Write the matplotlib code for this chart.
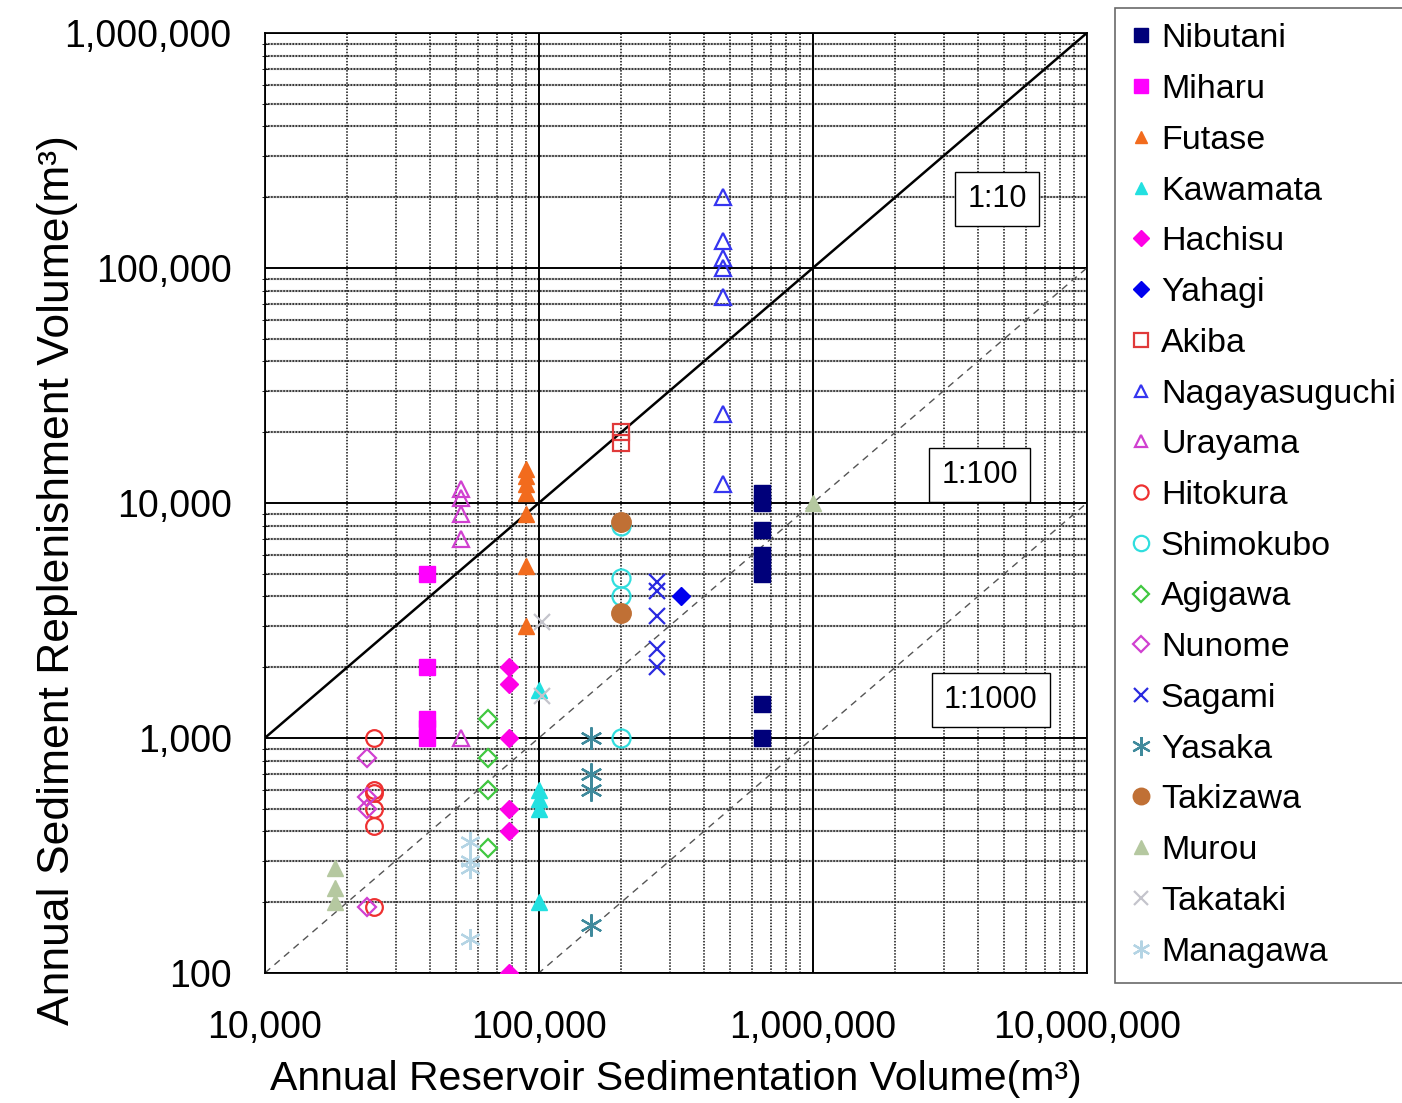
import numpy as np
import matplotlib
matplotlib.use("Agg")
import matplotlib.pyplot as plt
from matplotlib.ticker import FixedLocator, FuncFormatter, LogLocator, NullFormatter

# values (m3/year)
nibutani_x = [650000] * 8
nibutani_y = [11000, 10000, 7700, 6000, 5500, 5000, 1400, 1000]
miharu_x = [39000] * 5
miharu_y = [5000, 2000, 1200, 1100, 1000]
futase_x = [90000] * 7
futase_y = [14000, 13000, 12000, 11000, 9000, 5400, 3000]
kawamata_x = [100000] * 5
kawamata_y = [1600, 600, 550, 500, 200]
hachisu_x = [78000] * 6
hachisu_y = [2000, 1700, 1000, 500, 400, 100]
yahagi_x = [330000]
yahagi_y = [4000]
akiba_x = [200000] * 2
akiba_y = [20000, 18000]
nagayasuguchi_x = [470000] * 7
nagayasuguchi_y = [200000, 130000, 110000, 100000, 75000, 24000, 12000]
urayama_x = [52000] * 5
urayama_y = [11500, 10500, 9000, 7000, 1000]
hitokura_x = [25000] * 6
hitokura_y = [1000, 600, 580, 500, 420, 190]
shimokubo_x = [200000] * 4
shimokubo_y = [8000, 4800, 4000, 1000]
agigawa_x = [65000] * 4
agigawa_y = [1200, 820, 600, 340]
nunome_x = [23500] * 4
nunome_y = [820, 560, 500, 190]
sagami_x = [270000] * 5
sagami_y = [4600, 4200, 3300, 2400, 2000]
yasaka_x = [155000] * 4
yasaka_y = [1000, 700, 600, 160]
takizawa_x = [200000] * 2
takizawa_y = [8300, 3400]
murou_x = [18000, 18000, 18000, 1000000]
murou_y = [280, 230, 200, 10000]
takataki_x = [103000] * 2
takataki_y = [3100, 1500]
managawa_x = [56000] * 4
managawa_y = [360, 300, 280, 140]

ratios = [10, 100, 1000]
ratio_labels = ["1:10", "1:100", "1:1000"]
x_ticks = [1e4, 1e5, 1e6, 1e7]
y_ticks = [1e2, 1e3, 1e4, 1e5, 1e6]

ASTER = (6, 2, 0)

# name, x, y, marker, color, filled, size
series = [
    ("Nibutani", nibutani_x, nibutani_y, "s", "#00007a", True, 12),
    ("Miharu", miharu_x, miharu_y, "s", "#ff00ff", True, 12),
    ("Futase", futase_x, futase_y, "^", "#f26b1d", True, 11),
    ("Kawamata", kawamata_x, kawamata_y, "^", "#22e0e0", True, 11),
    ("Hachisu", hachisu_x, hachisu_y, "D", "#ff00e6", True, 9),
    ("Yahagi", yahagi_x, yahagi_y, "D", "#0000ee", True, 9),
    ("Akiba", akiba_x, akiba_y, "s", "#e03a3a", False, 12),
    ("Nagayasuguchi", nagayasuguchi_x, nagayasuguchi_y, "^", "#3535f0", False, 11),
    ("Urayama", urayama_x, urayama_y, "^", "#d040d0", False, 11),
    ("Hitokura", hitokura_x, hitokura_y, "o", "#ee3030", False, 12),
    ("Shimokubo", shimokubo_x, shimokubo_y, "o", "#30dede", False, 13),
    ("Agigawa", agigawa_x, agigawa_y, "D", "#40c840", False, 9),
    ("Nunome", nunome_x, nunome_y, "D", "#d040d0", False, 9),
    ("Sagami", sagami_x, sagami_y, "x", "#2a2ae0", False, 12),
    ("Yasaka", yasaka_x, yasaka_y, ASTER, "#3f8a9c", False, 16),
    ("Takizawa", takizawa_x, takizawa_y, "o", "#c07035", True, 14),
    ("Murou", murou_x, murou_y, "^", "#b5c8a0", True, 12),
    ("Takataki", takataki_x, takataki_y, "x", "#c4c4cc", False, 12),
    ("Managawa", managawa_x, managawa_y, ASTER, "#b4d4e4", False, 15),
]


def main():
    fig = plt.figure(figsize=(14.02, 11.03), dpi=100)
    ax = fig.add_axes([0.189, 0.118, 0.5863, 0.8522])
    ax.set_xscale("log")
    ax.set_yscale("log")
    ax.set_xlim(1e4, 1e7)
    ax.set_ylim(1e2, 1e6)

    # grid: doubled light/dotted minor lines, black majors
    for v in LogLocator(base=10, subs=np.arange(2, 10)).tick_values(1e2, 1e6):
        if 1e2 < v < 1e6:
            ax.axhline(v, color="#b8b8b8", lw=1.6, zorder=0.5)
    ax.grid(which="minor", color="#111111", ls=(0, (1, 1)), lw=1.1, zorder=0.6)
    ax.grid(which="major", color="black", lw=1.4, zorder=0.7)
    ax.set_axisbelow(True)

    for name, xs, ys, mk, col, filled, ms in series:
        if filled:
            ax.plot(xs, ys, ls="none", marker=mk, ms=ms, color=col,
                    mec=col, label=name, zorder=3)
        else:
            ax.plot(xs, ys, ls="none", marker=mk, ms=ms, mfc="none",
                    mec=col, mew=1.6, label=name, zorder=3)

    line_x = np.array([1e4, 1e7])
    ax.plot(line_x, line_x / ratios[0], color="black", lw=1.8, zorder=2)
    ax.plot(line_x, line_x / ratios[1], color="#555555", lw=1.0, ls=(0, (5, 4)), zorder=2)
    ax.plot(line_x, line_x / ratios[2], color="#555555", lw=1.0, ls=(0, (5, 4)), zorder=2)

    box = dict(boxstyle="square,pad=0.4", fc="white", ec="black", lw=1.0)
    label_pos = [(0.8905, 0.8234), (0.8698, 0.5298), (0.8832, 0.2904)]
    for lab, (px, py) in zip(ratio_labels, label_pos):
        ax.text(px, py, lab, transform=ax.transAxes, ha="center", va="center",
                fontsize=22, family="Liberation Sans", bbox=box, zorder=4)

    ax.xaxis.set_major_locator(FixedLocator(x_ticks))
    ax.yaxis.set_major_locator(FixedLocator(y_ticks))
    fmt = FuncFormatter(lambda v, p: f"{int(round(v)):,}")
    ax.xaxis.set_major_formatter(fmt)
    ax.yaxis.set_major_formatter(fmt)
    ax.xaxis.set_minor_formatter(NullFormatter())
    ax.yaxis.set_minor_formatter(NullFormatter())
    ax.tick_params(which="both", length=0, labelsize=27)
    ax.tick_params(axis="x", which="major", pad=27)
    ax.tick_params(axis="y", which="major", pad=24)
    ax.tick_params(axis="y", which="minor", length=5, direction="inout")
    for lbl in ax.get_xticklabels() + ax.get_yticklabels():
        lbl.set_family("Liberation Sans")
    for sp in ax.spines.values():
        sp.set_color("black")
        sp.set_linewidth(1.3)

    ax.set_xlabel("Annual Reservoir Sedimentation Volume(m³)", fontsize=29.5,
                  family="Liberation Sans", labelpad=10)
    ax.set_ylabel("Annual Sediment Replenishment Volume(m³)", fontsize=32,
                  family="Liberation Sans")
    ax.yaxis.set_label_coords(-0.228, 0.418)

    leg = ax.legend(loc="upper left", bbox_to_anchor=(0.7953, 0.9927),
                    bbox_transform=fig.transFigure, frameon=True, fancybox=False,
                    edgecolor="#444444", prop={"family": "Liberation Sans", "size": 24.5},
                    markerscale=0.85, handlelength=0.6, handletextpad=0.3,
                    labelspacing=0.58, borderpad=0.45, borderaxespad=0)
    leg.get_frame().set_linewidth(1.2)

    fig.savefig("out.png", dpi=100)


if __name__ == "__main__":
    main()
